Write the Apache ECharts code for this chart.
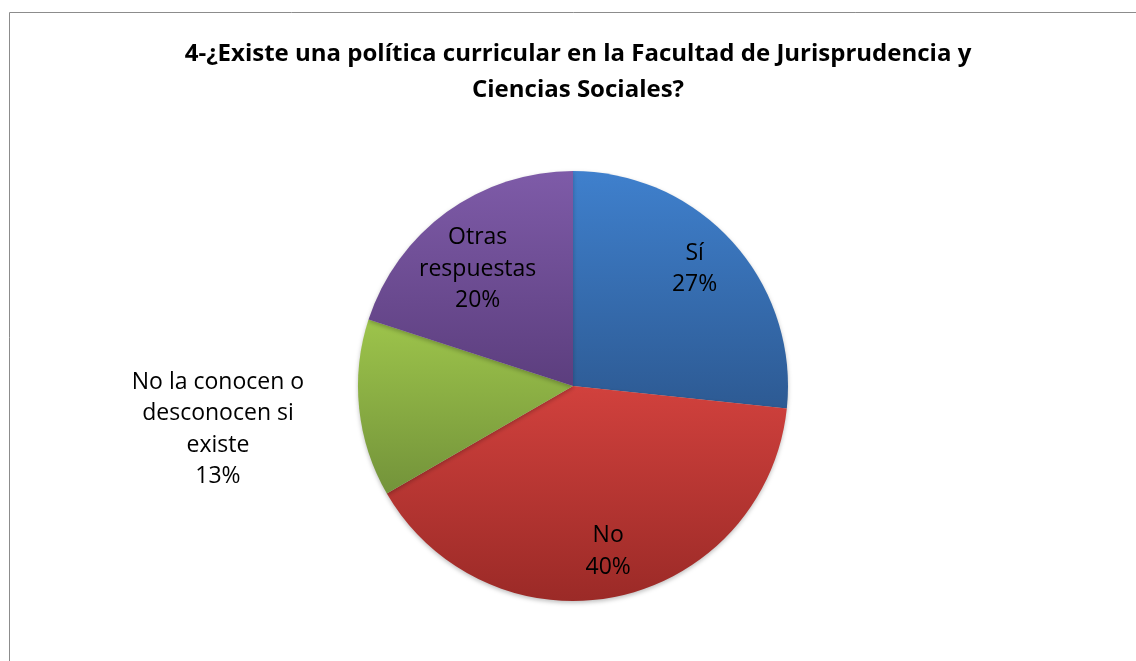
<!DOCTYPE html>
<html>
<head>
<meta charset="utf-8">
<script src="https://cdn.jsdelivr.net/npm/echarts@6/dist/echarts.min.js"></script>
<style>
  html, body { margin: 0; padding: 0; background: #fff; }
  #chart { width: 1136px; height: 661px; }
</style>
</head>
<body>
<div id="chart"></div>
<script>
// counts per answer (15 respondents)
const categories = ['Sí', 'No', 'No la conocen o desconocen si existe', 'Otras respuestas'];
const labelText = ['Sí', 'No', 'No la conocen o\ndesconocen si\nexiste', 'Otras\nrespuestas'];
const values = [4, 6, 2, 3];
const colorsTop = ['#3f80cd', '#d1413d', '#9dc44b', '#7e5ba8'];
const colorsBottom = ['#2d5a93', '#9b2a27', '#73933a', '#5c3e7e'];
// small nudges so labels sit where Excel put them
const labelNudge = [[-4, -4], [0, 0], [3, 6], [4, 20]];

const FONT = '"Open Sans", Lato, sans-serif';

function grad(i) {
    return new echarts.graphic.LinearGradient(0, 0, 0, 1, [
        { offset: 0, color: colorsTop[i] },
        { offset: 1, color: colorsBottom[i] }
    ]);
}

const slices = categories.map((name, i) => ({
    name: name,
    value: values[i],
    itemStyle: { color: grad(i) }
}));

// transparent rings only used to place labels
function labelRing(radius, showIdx) {
    return {
        type: 'pie',
        center: [573, 386],
        radius: radius,
        startAngle: 90,
        clockwise: true,
        silent: true,
        z: 5,
        data: categories.map((name, i) => ({
            name: name,
            value: values[i],
            itemStyle: { color: 'rgba(0,0,0,0)' },
            label: { show: showIdx.indexOf(i) >= 0, offset: labelNudge[i] }
        })),
        label: {
            position: 'inside',
            color: '#000',
            fontFamily: FONT,
            fontSize: 23,
            lineHeight: 31.5,
            align: 'center',
            formatter: p => labelText[p.dataIndex] + '\n' + Math.round(p.percent) + '%'
        },
        labelLine: { show: false },
        emphasis: { disabled: true }
    };
}

echarts.init(document.querySelector('#chart')).setOption({
    animation: false,
    title: {
        text: '4-¿Existe una política curricular en la Facultad de Jurisprudencia y\nCiencias Sociales?',
        left: 573,
        top: 31,
        textAlign: 'center',
        textStyle: {
            fontFamily: FONT,
            fontWeight: 'bold',
            fontSize: 24,
            lineHeight: 36,
            color: '#000'
        }
    },
    graphic: [{
        type: 'rect',
        shape: { x: 9.5, y: 12.5, width: 1200, height: 700 },
        style: { fill: 'none', stroke: '#8c8c8c', lineWidth: 1 },
        silent: true
    }],
    series: [
        {
            type: 'pie',
            center: [573, 386],
            radius: [0, 215],
            startAngle: 90,
            clockwise: true,
            data: slices,
            label: { show: false },
            labelLine: { show: false },
            itemStyle: {
                borderWidth: 0,
                shadowColor: 'rgba(0,0,0,0.25)',
                shadowBlur: 4,
                shadowOffsetY: 2
            }
        },
        labelRing([117, 215], [0, 1, 3]),
        labelRing([300, 414], [2])
    ]
});
</script>
</body>
</html>
